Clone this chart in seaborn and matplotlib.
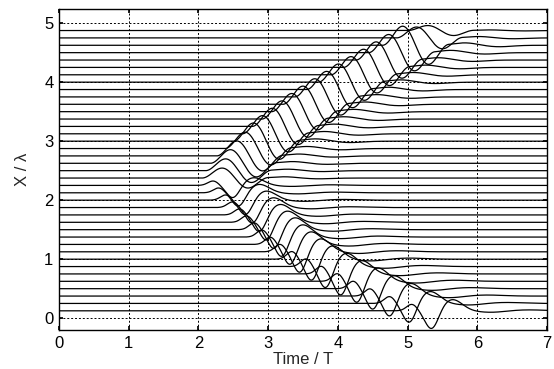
import numpy as np
import pandas as pd
import seaborn as sns
import matplotlib.pyplot as plt

# Baseline position of each receiver trace (X / lambda)
trace_x = [0.125, 0.25, 0.375, 0.5, 0.625, 0.75, 0.875, 1.0,
           1.125, 1.25, 1.375, 1.5, 1.625, 1.75, 1.875, 2.0,
           2.125, 2.25, 2.375, 2.5, 2.625, 2.75, 2.875, 3.0,
           3.125, 3.25, 3.375, 3.5, 3.625, 3.75, 3.875, 4.0,
           4.125, 4.25, 4.375, 4.5, 4.625, 4.75, 4.875]

# Arrival time of the pulse at each trace (Time / T)
onset = [4.92, 4.60, 4.32, 4.08, 3.85, 3.62, 3.40, 3.20,
         3.03, 2.89, 2.77, 2.66, 2.55, 2.45, 2.35, 2.25,
         2.15, 2.07, 2.05, 2.10, 2.17, 2.26, 2.38, 2.50,
         2.63, 2.77, 2.91, 3.05, 3.21, 3.38, 3.55, 3.72,
         3.90, 4.08, 4.26, 4.44, 4.64, 4.84, 5.00]

# Pulse amplitude of each trace (in X / lambda units)
amp = [0.32, 0.34, 0.36, 0.37, 0.38, 0.38, 0.38, 0.38,
       0.37, 0.36, 0.35, 0.34, 0.32, 0.30, 0.28, 0.26,
       0.24, 0.22, 0.22, 0.26, 0.30, 0.33, 0.36, 0.40,
       0.40, 0.40, 0.40, 0.40, 0.40, 0.40, 0.40, 0.40,
       0.40, 0.40, 0.40, 0.40, 0.42, 0.24, 0.11]

# Travel direction of the pulse seen by each trace
direction = ["down"] * 18 + ["up"] * 21

period = 0.95
time = np.linspace(0, 7, 1401)


def lobe(tau, centre, width):
    return np.exp(-0.5 * ((tau - centre) / width) ** 2)


def pulse_up(tau):
    inside = (tau > 0) & (tau < 1)
    main = np.where(inside, np.sin(2 * np.pi * tau) * np.sin(np.pi * tau), 0.0)
    tail = 0.10 * lobe(tau, 1.25, 0.18) - 0.06 * lobe(tau, 1.75, 0.2)
    return main + tail


def pulse_down(tau):
    return (0.35 * lobe(tau, 0.15, 0.08)
            - 1.0 * lobe(tau, 0.45, 0.10)
            + 0.60 * lobe(tau, 0.76, 0.15)
            - 0.08 * lobe(tau, 1.35, 0.2)
            + 0.05 * lobe(tau, 1.9, 0.25))


frames = []
for x0, t0, a, d in zip(trace_x, onset, amp, direction):
    tau = (time - t0) / period
    wave = pulse_up(tau) if d == "up" else pulse_down(tau)
    frames.append(pd.DataFrame({"time": time, "X": x0 + a * wave, "trace": x0}))
df = pd.concat(frames, ignore_index=True)

sns.set_theme(style="ticks")
plt.rcParams["font.family"] = ["Liberation Sans", "DejaVu Sans"]

fig = plt.figure(figsize=(5.54, 3.69), dpi=100)
ax = fig.add_axes([59 / 554, 1 - 330 / 369, 488 / 554, 321 / 369])

sns.lineplot(data=df, x="time", y="X", units="trace", estimator=None,
             sort=False, color="black", linewidth=0.9, ax=ax, legend=False)

ax.set_xlim(0, 7)
ax.set_ylim(-0.2, 5.24)
ax.set_xticks(range(8))
ax.set_yticks(range(6))
ax.grid(True, color="black", linestyle=(0, (2, 2)), linewidth=0.7)
ax.set_axisbelow(True)
ax.tick_params(direction="in", length=3, labelsize=12, top=True, right=True,
               colors="black", pad=4)
ax.set_xlabel("Time / T", fontsize=12, labelpad=1)
ax.set_ylabel("X / λ", fontsize=12, labelpad=10)
for s in ax.spines.values():
    s.set_color("black")
    s.set_linewidth(1.0)

fig.savefig("out.png", dpi=100)
